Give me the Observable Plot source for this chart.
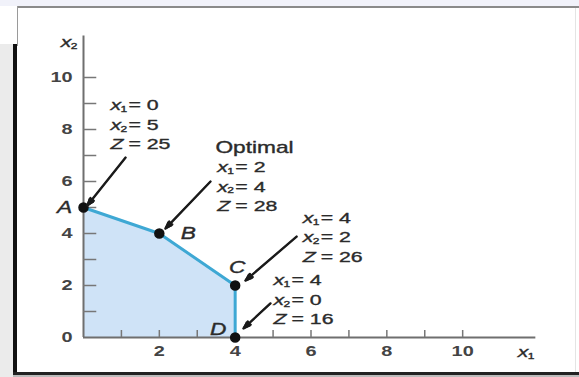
<!DOCTYPE html>
<html>
<head>
<meta charset="utf-8">
<script src="https://cdn.jsdelivr.net/npm/d3@7"></script>
<script src="https://cdn.jsdelivr.net/npm/@observablehq/plot@0.6"></script>
<style>
  html, body { margin: 0; padding: 0; background: #ffffff; }
  #page { position: relative; width: 579px; height: 377px; overflow: hidden; background: #ffffff; }
  .deco { position: absolute; }
  #chart { position: absolute; left: 0; top: 0; }
  #chart svg { background: transparent; }
</style>
</head>
<body>
<div id="page">
  <div class="deco" style="left:0;top:0;width:579px;height:6px;background:#f1f2fa;"></div>
  <div class="deco" style="left:17px;top:6px;width:562px;height:2px;background:#8a8a8a;"></div>
  <div class="deco" style="left:17px;top:6px;width:1px;height:40px;background:#9a9a9a;"></div>
  <div class="deco" style="left:0;top:44px;width:13px;height:333px;background:#ebebeb;"></div>
  <div class="deco" style="left:13px;top:44px;width:4px;height:333px;background:#111;"></div>
  <div class="deco" style="left:13px;top:372px;width:566px;height:3px;background:#222;"></div>
  <div class="deco" style="left:13px;top:375px;width:566px;height:2px;background:#bbb;"></div>
  <div class="deco" style="left:575px;top:8px;width:1px;height:364px;background:#e4e4e4;"></div>
  <div id="chart"></div>
</div>
<script>
// Feasible region of the LP: corner points and their objective values
const cornerNames = ["A", "B", "C", "D"];
const cornerX1 = [0, 2, 4, 4];
const cornerX2 = [5, 4, 2, 0];
const cornerZ = [25, 28, 26, 16];

// Axis ticks
const majorX = [2, 4, 6, 8, 10];
const majorY = [0, 2, 4, 6, 8, 10];
const minorX = [1, 2, 3, 4, 5, 6, 7, 8, 9, 10];
const minorY = [1, 2, 3, 4, 5, 6, 7, 8, 9, 10];

// Callout blocks (left edge / first line, in data units) and their arrows
const calloutX = [0.71, 3.53, 5.78, 5.01];
const calloutY = [8.92, 6.54, 4.58, 2.19];
const lineStep = 0.74;
const arrowTailX = [1.11, 3.35, 5.62, 4.93];
const arrowTailY = [6.92, 6.0, 3.88, 1.31];
const arrowHeadX = [0.1, 2.16, 4.27, 4.22];
const arrowHeadY = [5.08, 4.19, 2.19, 0.35];

// Pixel offsets of the corner letters from their points
const letterDX = [-19, 29, 2, -17];
const letterDY = [0, 0, -18, -8];

const corners = cornerNames.map((name, i) => ({name, x: cornerX1[i], y: cornerX2[i]}));
const region = corners.map(c => ({x: c.x, y: c.y}));

// Each callout: x1 = ..., x2 = ..., Z = ...
const calloutRows = [];
corners.forEach((c, i) => {
  const rows = [["x", "1", "= " + cornerX1[i]], ["x", "2", "= " + cornerX2[i]], ["Z", "", "= " + cornerZ[i]]];
  rows.forEach((r, j) => calloutRows.push({x: calloutX[i], y: calloutY[i] - j * lineStep, v: r[0], sub: r[1], val: r[2]}));
});
const arrows = calloutX.map((_, i) => ({x1: arrowTailX[i], y1: arrowTailY[i], x2: arrowHeadX[i], y2: arrowHeadY[i]}));
const axisNames = [{x: -0.6, y: 11.35, v: "x", sub: "2"}, {x: 11.45, y: -0.58, v: "x", sub: "1"}];

const xAxisLine = [{x1: 0, x2: 11.93, y: 0}];
const yAxisLine = [{y1: 0, y2: 11.6, x: 0}];
const xTickMarks = minorX.map(v => ({x: v, y1: 0, y2: 0.27}));
const yTickMarks = minorY.map(v => ({y: v, x1: 0, x2: 0.35}));

const font = "'Liberation Sans', Arial, Helvetica, sans-serif";
const ink = "#2b2b2b";
const txt = {fill: ink, stroke: ink, strokeWidth: 0.35, textAnchor: "start"};

// italic variable with a small subscript digit
const varText = (data, size) => [
  Plot.text(data, {x: "x", y: "y", text: "v", fontSize: size, fontStyle: "italic", ...txt}),
  Plot.text(data, {x: "x", y: "y", text: "sub", dx: 10, dy: 4, fontSize: 8.5, ...txt})
];

const chart = Plot.plot({
  width: 579,
  height: 377,
  marginLeft: 83,
  marginRight: 41,
  marginTop: 25,
  marginBottom: 40,
  style: {fontFamily: font, background: "transparent", overflow: "visible"},
  x: {domain: [0, 12], axis: null},
  y: {domain: [0, 12], axis: null},
  marks: [
    Plot.areaY(region, {x: "x", y: "y", fill: "#cfe3f7"}),
    // axes
    Plot.ruleY(xAxisLine, {y: "y", x1: "x1", x2: "x2", stroke: "#6f6f6f", strokeWidth: 2}),
    Plot.ruleX(yAxisLine, {x: "x", y1: "y1", y2: "y2", stroke: "#6f6f6f", strokeWidth: 2}),
    Plot.ruleX(xTickMarks, {x: "x", y1: "y1", y2: "y2", stroke: "#777", strokeWidth: 1.5}),
    Plot.ruleY(yTickMarks, {y: "y", x1: "x1", x2: "x2", stroke: "#777", strokeWidth: 1.5}),
    Plot.text(majorX, {x: d => d, y: () => 0, dy: 14, text: d => String(d), fontSize: 14, fontWeight: "bold", fill: "#444"}),
    Plot.text(majorY, {x: () => 0, y: d => d, dx: -11, textAnchor: "end", text: d => String(d), fontSize: 14, fontWeight: "bold", fill: "#444"}),
    ...varText(axisNames, 15),
    // boundary of the feasible region
    Plot.line(region, {x: "x", y: "y", stroke: "#3ea8d4", strokeWidth: 3}),
    Plot.dot(corners, {x: "x", y: "y", r: 4.5, fill: "#111", stroke: "#111"}),
    ...corners.map((c, i) => Plot.text([c], {x: "x", y: "y", dx: letterDX[i], dy: letterDY[i], text: "name", fontSize: 16, fontStyle: "italic", ...txt, textAnchor: "middle"})),
    // callouts
    Plot.arrow(arrows, {x1: "x1", y1: "y1", x2: "x2", y2: "y2", stroke: "#1a1a1a", strokeWidth: 1.3, headLength: 8, headAngle: 45}),
    Plot.arrow(arrows, {x1: "x1", y1: "y1", x2: "x2", y2: "y2", stroke: "#1a1a1a", strokeWidth: 2.4, headLength: 5, headAngle: 30}),
    Plot.text([{x: calloutX[1] - 0.05, y: calloutY[1] + 0.77, t: "Optimal"}], {x: "x", y: "y", text: "t", fontSize: 16, ...txt}),
    ...varText(calloutRows, 15),
    Plot.text(calloutRows, {x: "x", y: "y", text: "val", dx: 18, fontSize: 15, ...txt})
  ]
});

// wide, slightly stretched lettering
d3.select(chart).selectAll("text").each(function () {
  const t = this.getAttribute("transform");
  if (t) this.setAttribute("transform", t + " scale(1.42,1)");
  else {
    const x = +this.getAttribute("x") || 0, y = +this.getAttribute("y") || 0;
    this.setAttribute("transform", `translate(${x},${y}) scale(1.42,1)`);
    this.removeAttribute("x"); this.removeAttribute("y");
  }
});

document.getElementById("chart").appendChild(chart);
</script>
</body>
</html>
